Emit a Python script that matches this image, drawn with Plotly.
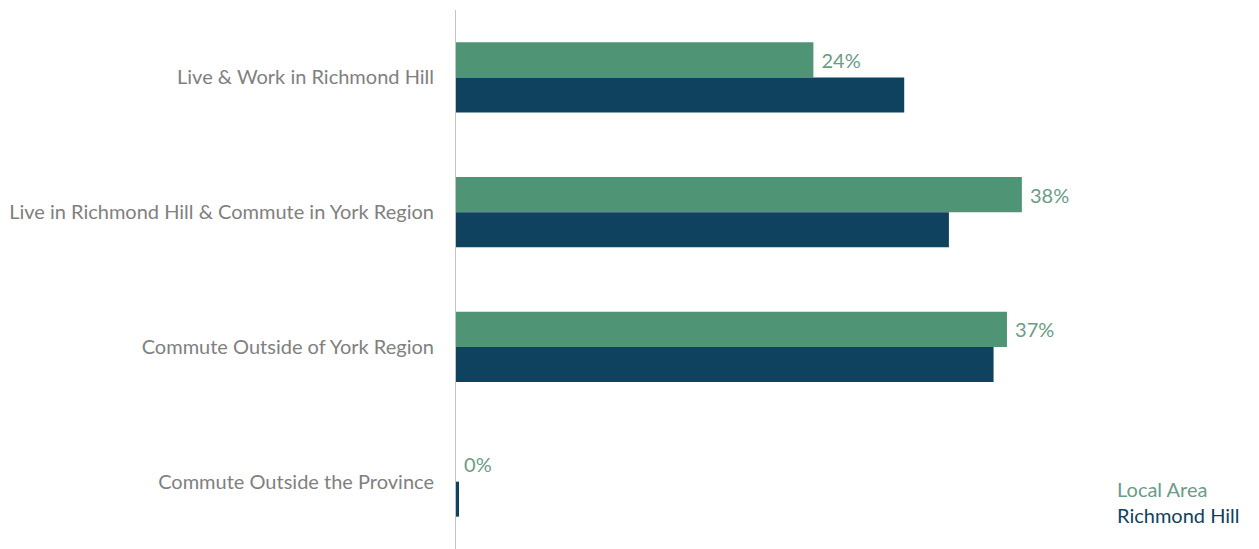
import plotly.graph_objects as go

# Commuting patterns: share of employed residents (%)
categories = [
    "Live & Work in Richmond Hill",
    "Live in Richmond Hill & Commute in York Region",
    "Commute Outside of York Region",
    "Commute Outside the Province",
]
local_area = [24, 38, 37, 0]
richmond_hill = [30.1, 33.1, 36.1, 0.2]
local_labels = ["24%", "38%", "37%", "0%"]

GREEN = "#4f9474"
NAVY = "#0f425e"
LABEL_GREEN = "#6a9c86"
GREY_TEXT = "#808080"
FONT = "Lato, Open Sans, sans-serif"

fig = go.Figure()
fig.add_trace(go.Bar(
    y=categories, x=local_area, orientation="h", name="Local Area",
    marker=dict(color=GREEN, line=dict(width=0)),
    text=[" " + t for t in local_labels], textposition="outside", cliponaxis=False,
    textfont=dict(color=LABEL_GREEN, size=20, family=FONT),
))
fig.add_trace(go.Bar(
    y=categories, x=richmond_hill, orientation="h", name="Richmond Hill",
    marker=dict(color=NAVY, line=dict(width=0)),
))

fig.update_layout(
    width=1259, height=549,
    margin=dict(l=456, r=153, t=10, b=0),
    paper_bgcolor="white", plot_bgcolor="white",
    barmode="group", bargap=0.48, bargroupgap=0,
    showlegend=False,
    font=dict(family=FONT, color=GREY_TEXT, size=20),
    xaxis=dict(range=[0, 43.65], visible=False, fixedrange=True),
    yaxis=dict(
        autorange="reversed", showline=True, linecolor="#c4c4c4", linewidth=1,
        showgrid=False, zeroline=False, ticks="", ticklabelstandoff=17,
        tickfont=dict(size=20, color=GREY_TEXT, family=FONT),
    ),
)

# Series key as coloured text in the lower right corner
fig.add_annotation(text="Local Area", xref="paper", yref="paper",
                   x=1.0145, y=0.111, xanchor="left", yanchor="middle",
                   showarrow=False, font=dict(size=20, color=LABEL_GREEN, family=FONT))
fig.add_annotation(text="Richmond Hill", xref="paper", yref="paper",
                   x=1.0145, y=0.063, xanchor="left", yanchor="middle",
                   showarrow=False, font=dict(size=20, color=NAVY, family=FONT))

fig.write_html("out.html")
